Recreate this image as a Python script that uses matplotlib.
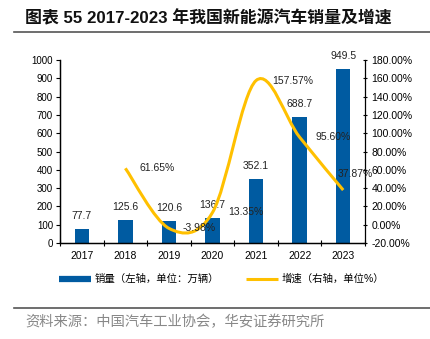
import numpy as np
import matplotlib
matplotlib.use("Agg")
import matplotlib.pyplot as plt
from matplotlib.path import Path
from matplotlib.patches import PathPatch
from matplotlib.lines import Line2D

plt.rcParams['font.family'] = ['Liberation Sans', 'Noto Sans CJK SC', 'DejaVu Sans']

# data
years = ['2017', '2018', '2019', '2020', '2021', '2022', '2023']
sales = [77.7, 125.6, 120.6, 136.7, 352.1, 688.7, 949.5]
growth_years = ['2018', '2019', '2020', '2021', '2022', '2023']
growth = [61.65, -3.98, 13.35, 157.57, 95.60, 37.87]
growth_labels = ['61.65%', '-3.98%', '13.35%', '157.57%', '95.60%', '37.87%']

title = '图表 55 2017-2023 年我国新能源汽车销量及增速'
source = '资料来源：中国汽车工业协会，华安证券研究所'

BAR = '#005BA1'
GOLD = '#FFC000'

fig = plt.figure(figsize=(4.30, 3.39), dpi=100)
ax = fig.add_axes([60/430, 1-243/339, 305/430, 183/339])
ax2 = ax.twinx()

x = np.arange(len(years))
ax.bar(x, sales, width=0.33, color=BAR, zorder=2)
for xi, v in zip(x, sales):
    ax.annotate(f'{v:.1f}', (xi, v), xytext=(0, 8), textcoords='offset pixels',
                ha='center', va='bottom', fontsize=7.5, color='#222222')

ax.set_xlim(-0.5, len(years) - 0.5)
ax.set_ylim(0, 1000)
ax.set_yticks(np.arange(0, 1001, 100))
ax.set_xticks(x)
ax.set_xticklabels(years)
ax.set_xticks(np.arange(-0.5, len(years), 1), minor=True)
ax.tick_params(axis='x', which='major', length=0, pad=6, labelsize=7.5)
ax.tick_params(axis='x', which='minor', length=4, direction='inout', width=0.8)
ax.tick_params(axis='y', length=3, direction='out', width=0.8, labelsize=7, pad=2)
ax.spines['top'].set_visible(False)
ax.spines['right'].set_visible(False)

# smoothed growth line (Excel-style bezier through points)
gx = np.array([years.index(y) for y in growth_years], dtype=float)
gy = np.array(growth)
ax2.set_ylim(-20, 180)
ax2.set_yticks(np.arange(-20, 181, 20))
ax2.set_yticklabels([f'{t:.2f}%' for t in np.arange(-20, 181, 20)])
sx, sy = 305/7, 183/200  # pixel per unit
px, py = gx*sx, gy*sy
verts = [(gx[0], gy[0])]
codes = [Path.MOVETO]
n = len(px)
for i in range(n-1):
    p0 = i-1 if i > 0 else i
    p3 = i+2 if i+2 < n else i+1
    c1 = (px[i] + (px[i+1]-px[p0])/6, py[i] + (py[i+1]-py[p0])/6)
    c2 = (px[i+1] - (px[p3]-px[i])/6, py[i+1] - (py[p3]-py[i])/6)
    verts += [(c1[0]/sx, c1[1]/sy), (c2[0]/sx, c2[1]/sy), (gx[i+1], gy[i+1])]
    codes += [Path.CURVE4]*3
ax2.add_patch(PathPatch(Path(verts, codes), fill=False, edgecolor=GOLD, lw=2.2,
                        capstyle='butt', zorder=3))

offsets = [(14, 0), (14, 0), (16, 0), (16, 0), (16, 0), (-6, 16)]
for xi, v, lab, off in zip(gx, gy, growth_labels, offsets):
    ax2.annotate(lab, (xi, v), xytext=off, textcoords='offset pixels',
                 ha='left', va='center', fontsize=7.5, color='#222222', zorder=4)

ax2.tick_params(axis='y', length=3, direction='inout', width=0.8, labelsize=7.5, pad=3)
ax2.spines['top'].set_visible(False)
for a in (ax, ax2):
    for s in a.spines.values():
        s.set_linewidth(0.9)

handles = [Line2D([], [], color=BAR, lw=4.5, solid_capstyle='butt'),
           Line2D([], [], color=GOLD, lw=2.2, solid_capstyle='butt')]
labels = ['销量（左轴，单位：万辆）', '增速（右轴，单位%）']
fig.legend(handles, labels, loc='center', bbox_to_anchor=(222/430, 1-279/339),
           ncol=2, frameon=False, fontsize=7.5, handlelength=3.0, columnspacing=2.6,
           handletextpad=0.4)

fig.text(25/430, 1-18/339, title, fontsize=12.2, fontweight='bold',
         ha='left', va='center', color='#111111')
fig.add_artist(Line2D([14/430, 1], [1-32/339, 1-32/339], color='#555555', lw=1.2))
fig.add_artist(Line2D([14/430, 1], [1-308/339, 1-308/339], color='#555555', lw=1.2))
fig.text(25/430, 1-322/339, source, fontsize=10.3, ha='left', va='center',
         color='#888888')

fig.savefig('out.png', dpi=100)
